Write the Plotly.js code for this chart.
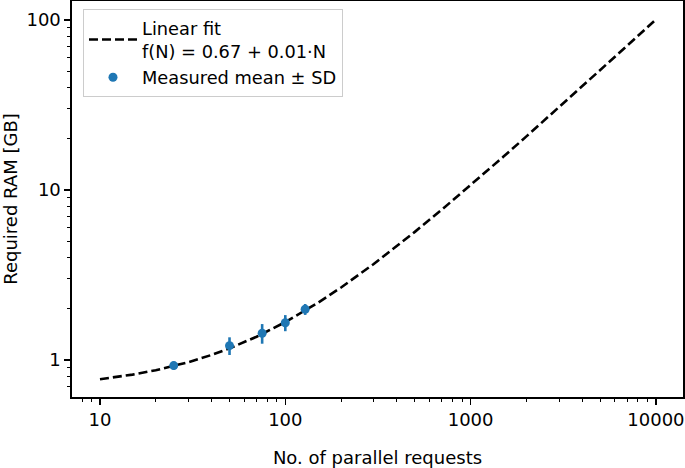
<!DOCTYPE html>
<html>
<head>
<meta charset="utf-8">
<script src="https://cdn.plot.ly/plotly-3.0.1.min.js"></script>
<style>html,body{margin:0;padding:0;background:#fff;}#chart{width:685px;height:468px;}</style>
</head>
<body>
<div id="chart"></div>
<script>
// Linear fit curve f(N) = 0.67 + 0.01*N, values at selected N
const fitN = [10, 15, 20, 30, 40, 50, 70, 100, 150, 200, 300, 500, 700, 1000, 1500, 2000, 3000, 5000, 7000, 10000];
const fitRAM = [0.77, 0.82, 0.87, 0.97, 1.07, 1.17, 1.37, 1.67, 2.17, 2.67, 3.67, 5.67, 7.67, 10.67, 15.67, 20.67, 30.67, 50.67, 70.67, 100.67];
// Measured points
const measN = [25, 50, 75, 100, 128];
const measMean = [0.926, 1.214, 1.436, 1.656, 1.987];
const measSD = [0.05, 0.145, 0.19, 0.18, 0.147];
const xTicks = [10, 100, 1000, 10000];
const xTickText = ["10", "100", "1000", "10000"];
const yTicks = [1, 10, 100];
const yTickText = ["1", "10", "100"];

function minorTicks(lo, hi) {
  const out = [];
  for (let e = lo; e <= hi; e++) for (let d = 2; d <= 9; d++) out.push(d * Math.pow(10, e));
  return out;
}

const font = {family: "DejaVu Sans", size: 18, color: "#000"};

const traces = [
  {
    x: fitN, y: fitRAM, mode: "lines", type: "scatter",
    name: "Linear fit<br>f(N) = 0.67 + 0.01·N",
    line: {color: "#000", width: 2.6, dash: "9px,4px"}
  },
  {
    x: measN, y: measMean, mode: "markers", type: "scatter",
    name: "Measured mean ± SD",
    marker: {color: "#1f77b4", size: 9},
    error_y: {type: "data", array: measSD, visible: true, color: "#1f77b4", thickness: 2.6, width: 0}
  }
];

const layout = {
  width: 685, height: 468,
  margin: {l: 72, r: 2, t: 1, b: 71},
  paper_bgcolor: "#fff", plot_bgcolor: "#fff",
  font: font,
  showlegend: true,
  legend: {
    x: 0.018, y: 0.98, xanchor: "left", yanchor: "top",
    bgcolor: "rgba(255,255,255,0.8)", bordercolor: "#cccccc", borderwidth: 1,
    font: {family: "DejaVu Sans", size: 17.8, color: "#000"},
    itemwidth: 48,
    tracegroupgap: 0
  },
  xaxis: {
    type: "log", range: [0.849, 4.146],
    tickmode: "array", tickvals: xTicks, ticktext: xTickText,
    ticks: "outside", ticklen: 6, tickwidth: 1.3, tickcolor: "#000",
    minor: {tickmode: "array", tickvals: minorTicks(0, 4), ticks: "outside", ticklen: 3.5, tickwidth: 1, tickcolor: "#000", showgrid: false},
    showline: true, linecolor: "#000", linewidth: 1.6, mirror: true,
    showgrid: false, zeroline: false,
    tickfont: font,
    title: {text: "No. of parallel requests", font: font, standoff: 22},
    automargin: false
  },
  yaxis: {
    type: "log", range: [-0.218, 2.112],
    tickmode: "array", tickvals: yTicks, ticktext: yTickText,
    ticks: "outside", ticklen: 6, tickwidth: 1.3, tickcolor: "#000",
    minor: {tickmode: "array", tickvals: minorTicks(-1, 2), ticks: "outside", ticklen: 3.5, tickwidth: 1, tickcolor: "#000", showgrid: false},
    showline: true, linecolor: "#000", linewidth: 1.6, mirror: true,
    showgrid: false, zeroline: false,
    tickfont: font,
    title: {text: "Required RAM [GB]", font: font, standoff: 10},
    automargin: false
  }
};

Plotly.newPlot("chart", traces, layout, {displayModeBar: false, staticPlot: true});
</script>
</body>
</html>
